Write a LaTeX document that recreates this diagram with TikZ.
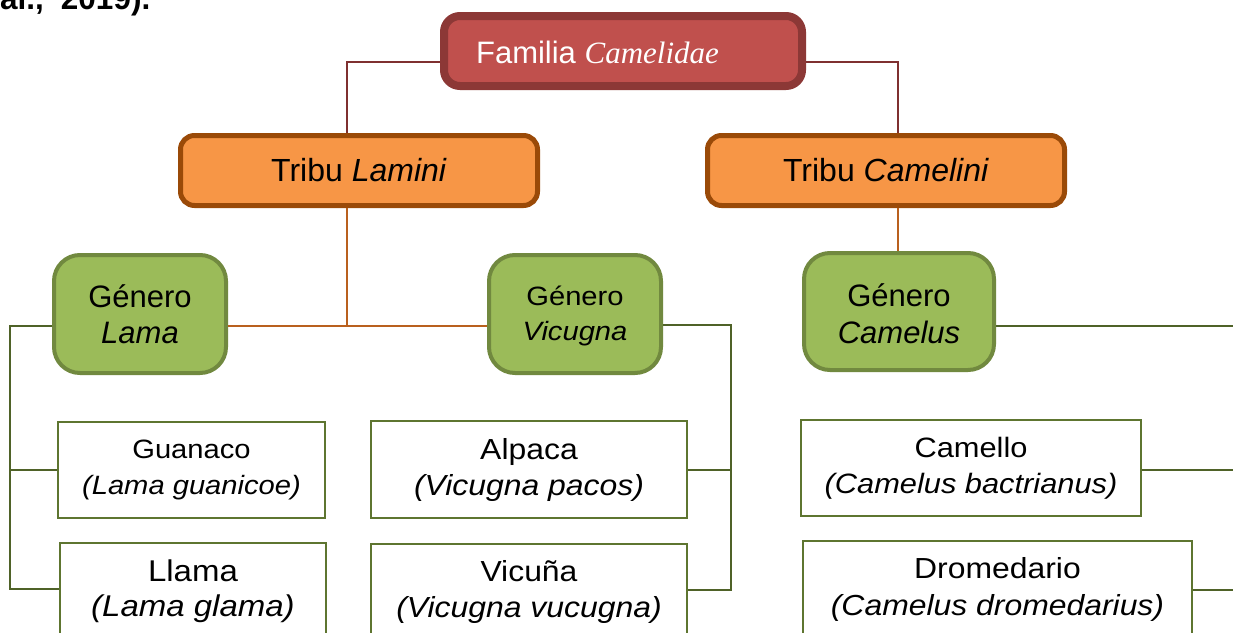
\documentclass[tikz,border=0pt]{standalone}
\usepackage{fontspec}
\setmainfont{Liberation Sans}
\newfontfamily\serifface{Liberation Serif}
\newfontfamily\widesans{Liberation Sans}[FakeStretch=1.1]
\definecolor{famfill}{HTML}{C0504D}
\definecolor{famdraw}{HTML}{8C3836}
\definecolor{tribfill}{HTML}{F79646}
\definecolor{tribdraw}{HTML}{9A4A08}
\definecolor{genfill}{HTML}{9BBB59}
\definecolor{gendraw}{HTML}{71893F}
\definecolor{leafdraw}{HTML}{5E7530}
\definecolor{linegreen}{HTML}{4F6228}
\definecolor{linered}{HTML}{7F3030}
\definecolor{lineorange}{HTML}{B9601E}
\tikzset{
  famstyle/.style={draw=famdraw, fill=famfill, line width=8pt, rounded corners=16pt,
    minimum width=358pt, minimum height=70pt, inner sep=0pt},
  tribstyle/.style={draw=tribdraw, fill=tribfill, line width=5pt, rounded corners=14pt,
    minimum width=357pt, minimum height=70pt, inner sep=0pt, font=\fontsize{32}{36}\selectfont},
  genstyle/.style={draw=gendraw, fill=genfill, line width=4pt, rounded corners=26pt,
    minimum width=172pt, minimum height=118pt, inner sep=0pt, align=center},
  leafstyle/.style={draw=leafdraw, fill=white, line width=1.5pt, inner sep=0pt, align=center},
  redline/.style={draw=linered, line width=1.5pt},
  orangeline/.style={draw=lineorange, line width=1.8pt},
  greenline/.style={draw=linegreen, line width=2pt},
}
\begin{document}
\begin{tikzpicture}[x=1pt,y=-1pt]
\useasboundingbox (0,0) rectangle (1233,632);
\clip (0,0) rectangle (1233,632);
\fill[white] (0,0) rectangle (1233,632);

% caption fragment cut at top
\node[anchor=base west, inner sep=0pt, font=\bfseries\fontsize{31.5}{31.5}\selectfont] (cite) at (0,9) {al.,\hspace{17pt}2019).};

% nodes
\node[famstyle] (fam) at (623,51) {};
\node[anchor=base, inner sep=0pt, text=white] (famtext) at (597.5,63)
  {\fontsize{31}{31}\selectfont Familia \serifface\itshape\fontsize{31}{31}\selectfont Camelidae};

\node[tribstyle] (lam) at (359,170.5) {Tribu \textit{Lamini}};
\node[tribstyle] (cam) at (886,170.5) {Tribu \textit{Camelini}};

\node[genstyle, font=\fontsize{31}{36}\selectfont] (gl) at (140,314) {Género\\\textit{Lama}};
\node[genstyle] (gv) at (575,314) {};
\node[align=center, inner sep=0pt, font=\widesans\fontsize{26.5}{35}\selectfont] (gvtext) at (575,316) {Género\\\textit{Vicugna}};
\node[genstyle, minimum width=190pt, minimum height=117pt] (gc) at (899,311.5) {};
\node[align=center, inner sep=0pt, font=\fontsize{31}{37}\selectfont] (gctext) at (899,313.5) {Género\\\textit{Camelus}};

\node[leafstyle, minimum width=267pt, minimum height=96pt, font=\widesans\fontsize{26.5}{36}\selectfont] (gua) at (191.5,470) {Guanaco\\\textit{(Lama guanicoe)}};
\node[leafstyle, minimum width=266pt, minimum height=97pt, font=\widesans\fontsize{30}{35}\selectfont] (lla) at (193,591.5) {Llama\\\textit{(Lama glama)}};
\node[leafstyle, minimum width=316pt, minimum height=97pt, font=\widesans\fontsize{29}{36}\selectfont] (alp) at (529,469.5) {Alpaca\\\textit{(Vicugna pacos)}};
\node[leafstyle, minimum width=316pt, minimum height=96pt, font=\widesans\fontsize{29}{36}\selectfont] (vic) at (529,592) {Vicuña\\\textit{(Vicugna vucugna)}};
\node[leafstyle, minimum width=340pt, minimum height=96pt, font=\widesans\fontsize{28}{36}\selectfont] (cml) at (971,468) {Camello\\\textit{(Camelus bactrianus)}};
\node[leafstyle, minimum width=389pt, minimum height=97pt, font=\widesans\fontsize{29}{37}\selectfont] (dro) at (997.5,589.5) {Dromedario\\\textit{(Camelus dromedarius)}};

% connectors: family -> tribes (yshift is in page direction: negative = down)
\path[redline] ([yshift=-11]fam.west) -| ([xshift=-12]lam.north);
\path[redline] ([yshift=-11]fam.east) -| ([xshift=12]cam.north);

% tribe -> genera
\coordinate (lamjoin) at ([xshift=-12]lam.south |- 0,326);
\path[orangeline] ([xshift=-12]lam.south) -- (lamjoin);
\path[orangeline] ([yshift=-12]gl.east) -- ([yshift=-12]gv.west);
\path[orangeline] ([xshift=12]cam.south) -- ([xshift=12]cam.south |- gc.north);

% genus Lama -> species
\coordinate (lamabus) at (10,326);
\path[greenline] ([yshift=-12]gl.west) -- (lamabus) |- ([yshift=2.5]lla.west);
\path[greenline] (lamabus |- gua.west) -- (gua.west);

% genus Vicugna -> species
\coordinate (vicbus) at (731,325);
\path[greenline] ([yshift=-11]gv.east) -- (vicbus) |- ([yshift=2]vic.east);
\path[greenline] (vicbus |- 0,470) -- (alp.east |- 0,470);

% genus Camelus -> species (bus outside the frame)
\coordinate (cambus) at (1245,326);
\path[greenline] ([yshift=-14.5]gc.east) -- (cambus) |- (dro.east);
\path[greenline] (cambus |- 0,470) -- (cml.east |- 0,470);
\end{tikzpicture}
\end{document}
